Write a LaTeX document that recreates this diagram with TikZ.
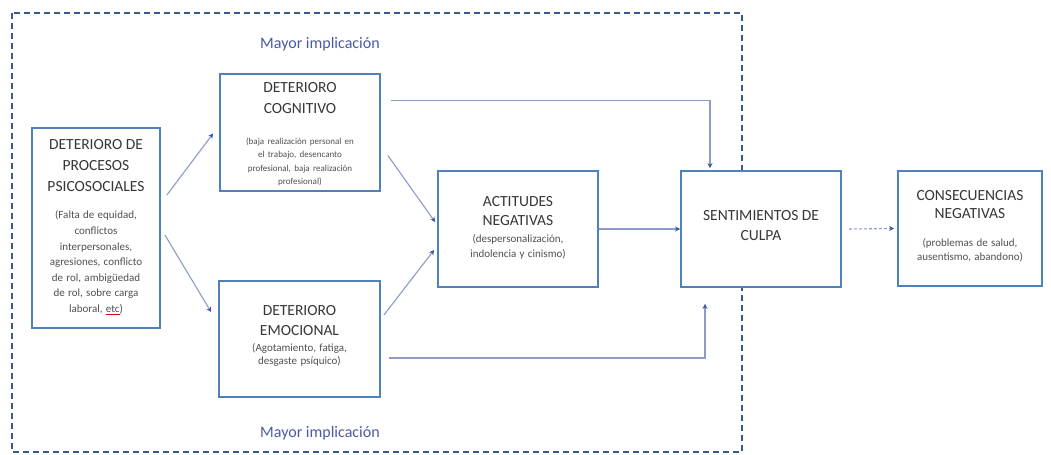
\documentclass[tikz,border=0pt]{standalone}
\usepackage{fontspec}
\setmainfont{Carlito}
\usetikzlibrary{arrows.meta,calc}
\definecolor{boxblue}{RGB}{79,129,189}
\definecolor{linecol}{RGB}{140,155,200}
\definecolor{tipcol}{RGB}{55,85,160}
\definecolor{framecol}{RGB}{55,90,140}
\definecolor{txtcol}{RGB}{55,55,55}
\definecolor{smlcol}{RGB}{80,80,80}
\definecolor{mayorcol}{RGB}{75,90,165}
\newcommand{\redul}[1]{{\setbox0\hbox{#1}\rlap{\color{red!85!black}\rule[-2.2bp]{\wd0}{0.8bp}}\box0}}
\begin{document}
\begin{tikzpicture}[x=1bp,y=-1bp,
  box/.style={draw=boxblue, line width=1.8bp, fill=white, rectangle, inner sep=0},
  txt/.style={text=txtcol, align=center, inner sep=0},
  conn/.style={draw=linecol, line width=1.1bp, -{Stealth[length=5bp,width=5bp,color=tipcol]}},
  mayor/.style={text=mayorcol, font=\fontsize{16bp}{19bp}\selectfont, inner sep=0}
]
\useasboundingbox (0,0) rectangle (1051,455);
\fill[white] (0,0) rectangle (1051,455);
% dashed frame
\draw[framecol, line width=1.5bp, dash pattern=on 6bp off 4bp] (12,13) rectangle (742,452);
\node[mayor] (m1) at (320,44) {Mayor implicación};
\node[mayor] (m2) at (320,433) {Mayor implicación};
% boxes
\node[box, minimum width=128bp, minimum height=200bp] (b1) at (96,228) {};
\node[box, minimum width=160bp, minimum height=117bp] (b2) at (300,132.5) {};
\node[box, minimum width=161bp, minimum height=116bp] (b3) at (299.5,339) {};
\node[box, minimum width=160bp, minimum height=116bp] (b4) at (518,229) {};
\node[box, minimum width=160bp, minimum height=116bp] (b5) at (761,229) {};
\node[box, minimum width=144bp, minimum height=115bp] (b6) at (970,228.5) {};
% texts
\node[txt, text width=122bp] (t1) at (96,227) {{\fontsize{15.5bp}{21bp}\selectfont DETERIORO DE\\PROCESOS\\PSICOSOCIALES\par}\vspace{12bp}{\color{smlcol}\fontsize{11bp}{15.6bp}\selectfont (Falta de equidad,\\conflictos\\interpersonales,\\agresiones, conflicto\\de rol, ambigüedad\\de rol, sobre carga\\laboral, \redul{etc})\par}};
\node[txt, text width=154bp] (t2) at (300,134) {{\fontsize{15.5bp}{21bp}\selectfont DETERIORO\\COGNITIVO\par}\vspace{18bp}{\color{smlcol}\fontsize{9bp}{13.3bp}\selectfont (baja realización personal en\\el trabajo, desencanto\\profesional, baja realización\\profesional)\par}};
\node[txt, text width=154bp] (t3) at (299.5,336) {{\fontsize{15.5bp}{20bp}\selectfont DETERIORO\\EMOCIONAL\par}\vspace{3bp}{\color{smlcol}\fontsize{11bp}{13bp}\selectfont (Agotamiento, fatiga,\\desgaste psíquico)\par}};
\node[txt, text width=154bp] (t4) at (518,228) {{\fontsize{15.5bp}{19bp}\selectfont ACTITUDES\\NEGATIVAS\par}\vspace{2bp}{\color{smlcol}\fontsize{11bp}{15bp}\selectfont (despersonalización,\\indolencia y cinismo)\par}};
\node[txt, text width=154bp] (t5) at (761,226) {{\fontsize{15.5bp}{20bp}\selectfont SENTIMIENTOS DE\\CULPA\par}};
\node[txt, text width=138bp] (t6) at (970,226) {{\fontsize{15.5bp}{18bp}\selectfont CONSECUENCIAS\\NEGATIVAS\par}\vspace{14bp}{\color{smlcol}\fontsize{11bp}{14bp}\selectfont (problemas de salud,\\ausentismo, abandono)\par}};
% connectors
\draw[conn] ($(b1.east)+(6,-33)$) -- ($(b2.west)+(-6,1)$);
\draw[conn] ($(b1.east)+(4,7)$) -- ($(b3.west)+(-7,-27)$);
\draw[conn] ($(b2.east)+(7,23)$) -- ($(b4.west)+(-2,-7)$);
\draw[conn] ($(b3.east)+(3,-24)$) -- ($(b4.west)+(-3,21)$);
\draw[conn] (b4.east) -- (b5.west);
\draw[conn] ($(b2.east)+(10,-32)$) -| ($(b5.north)+(-51,-2)$);
\draw[conn] ($(b3.east)+(8,19)$) -| ($(b5.south)+(-56,16)$);
\draw[conn, dash pattern=on 3bp off 2bp] ($(b5.east)+(7,0)$) -- ($(b6.west)+(-3,0)$);
\end{tikzpicture}
\end{document}
